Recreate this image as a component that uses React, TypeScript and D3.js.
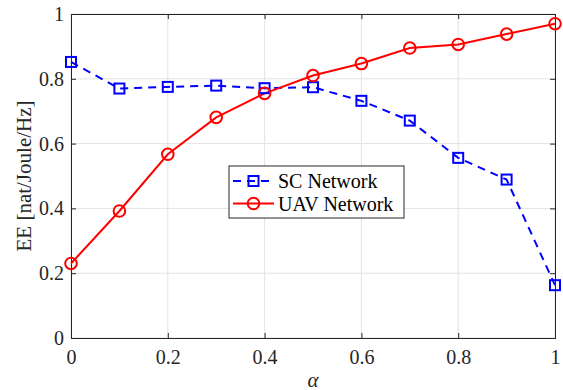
import * as React from "react"
import * as d3 from "d3"

const alphas = [0, 0.1, 0.2, 0.3, 0.4, 0.5, 0.6, 0.7, 0.8, 0.9, 1]
const scValues = [0.852, 0.77, 0.775, 0.779, 0.771, 0.774, 0.732, 0.671, 0.556, 0.489, 0.163]
const uavValues = [0.23, 0.392, 0.567, 0.681, 0.755, 0.81, 0.847, 0.895, 0.906, 0.938, 0.97]
const xTicks = [0, 0.2, 0.4, 0.6, 0.8, 1]
const yTicks = [0, 0.2, 0.4, 0.6, 0.8, 1]
const seriesNames = ["SC Network", "UAV Network"]

const width = 563
const height = 390
const margin = { top: 14, right: 8, bottom: 52, left: 71 }
const font = "Liberation Serif, Times New Roman, serif"

export default function App() {
  const ref = React.useRef<SVGSVGElement>(null)

  React.useEffect(() => {
    const svg = d3.select(ref.current)
    svg.selectAll("*").remove()
    const w = width - margin.left - margin.right
    const h = height - margin.top - margin.bottom

    const x = d3.scaleLinear().domain([0, 1]).range([0, w])
    const y = d3.scaleLinear().domain([0, 1]).range([h, 0])

    svg.append("rect").attr("width", width).attr("height", height).attr("fill", "#fff")

    const g = svg.append("g").attr("transform", `translate(${margin.left},${margin.top})`)

    // grid
    g.selectAll(".vgrid")
      .data(xTicks)
      .join("line")
      .attr("x1", (d) => x(d))
      .attr("x2", (d) => x(d))
      .attr("y1", 0)
      .attr("y2", h)
      .attr("stroke", "#e3e3e3")
      .attr("stroke-width", 1)
    g.selectAll(".hgrid")
      .data(yTicks)
      .join("line")
      .attr("y1", (d) => y(d))
      .attr("y2", (d) => y(d))
      .attr("x1", 0)
      .attr("x2", w)
      .attr("stroke", "#e3e3e3")
      .attr("stroke-width", 1)

    // axes
    const xAxis = g
      .append("g")
      .attr("transform", `translate(0,${h})`)
      .call(d3.axisBottom(x).tickValues(xTicks).tickSize(-5).tickPadding(12).tickFormat(d3.format("")))
    const yAxis = g
      .append("g")
      .call(d3.axisLeft(y).tickValues(yTicks).tickSize(-5).tickPadding(7).tickFormat(d3.format("")))
    g.append("g").call(d3.axisTop(x).tickValues(xTicks).tickSize(-5).tickFormat(() => ""))
    g.append("g")
      .attr("transform", `translate(${w},0)`)
      .call(d3.axisRight(y).tickValues(yTicks).tickSize(-5).tickFormat(() => ""))

    g.selectAll(".domain").attr("stroke", "#262626").attr("stroke-width", 1)
    g.selectAll(".tick line").attr("stroke", "#262626")
    for (const ax of [xAxis, yAxis]) {
      ax.attr("font-family", font).attr("font-size", 20)
      ax.selectAll(".tick text").attr("fill", "#262626")
    }

    // lines
    const line = d3
      .line<number>()
      .x((_d, i) => x(alphas[i]))
      .y((d) => y(d))

    g.append("path")
      .datum(scValues)
      .attr("d", line)
      .attr("fill", "none")
      .attr("stroke", "#0000ff")
      .attr("stroke-width", 2)
      .attr("stroke-dasharray", "8,6")

    g.append("path")
      .datum(uavValues)
      .attr("d", line)
      .attr("fill", "none")
      .attr("stroke", "#ff0000")
      .attr("stroke-width", 2)

    g.selectAll(".sq")
      .data(scValues)
      .join("rect")
      .attr("x", (_d, i) => x(alphas[i]) - 5)
      .attr("y", (d) => y(d) - 5)
      .attr("width", 10)
      .attr("height", 10)
      .attr("fill", "none")
      .attr("stroke", "#0000ff")
      .attr("stroke-width", 2)

    g.selectAll(".circ")
      .data(uavValues)
      .join("circle")
      .attr("cx", (_d, i) => x(alphas[i]))
      .attr("cy", (d) => y(d))
      .attr("r", 5.8)
      .attr("fill", "none")
      .attr("stroke", "#ff0000")
      .attr("stroke-width", 2)

    // legend
    const lg = svg.append("g").attr("transform", "translate(229,166)")
      .attr("font-family", font).attr("font-size", 20)
    lg.append("rect")
      .attr("width", 175)
      .attr("height", 52)
      .attr("fill", "#fff")
      .attr("stroke", "#262626")
      .attr("stroke-width", 1)
    lg.append("line")
      .attr("x1", 4).attr("x2", 45).attr("y1", 15).attr("y2", 15)
      .attr("stroke", "#0000ff").attr("stroke-width", 2).attr("stroke-dasharray", "8,6")
    lg.append("rect")
      .attr("x", 19.5).attr("y", 10).attr("width", 10).attr("height", 10)
      .attr("fill", "none").attr("stroke", "#0000ff").attr("stroke-width", 2)
    lg.append("line")
      .attr("x1", 4).attr("x2", 45).attr("y1", 37.5).attr("y2", 37.5)
      .attr("stroke", "#ff0000").attr("stroke-width", 2)
    lg.append("circle")
      .attr("cx", 24.5).attr("cy", 37.5).attr("r", 5.8)
      .attr("fill", "none").attr("stroke", "#ff0000").attr("stroke-width", 2)
    lg.selectAll(".lt")
      .data(seriesNames)
      .join("text")
      .attr("x", 49)
      .attr("y", (_d, i) => 21.5 + i * 23)
      .attr("fill", "#000")
      .text((d) => d)

    // axis labels
    svg.append("text")
      .attr("transform", `translate(31,${margin.top + h / 2}) rotate(-90)`)
      .attr("text-anchor", "middle")
      .attr("font-family", font)
      .attr("font-size", 21)
      .attr("fill", "#262626")
      .text("EE [nat/Joule/Hz]")
    svg.append("text")
      .attr("x", margin.left + w / 2)
      .attr("y", 387)
      .attr("text-anchor", "middle")
      .attr("font-family", font)
      .attr("font-style", "italic")
      .attr("font-size", 21)
      .attr("fill", "#262626")
      .text("α")
  }, [])

  return (
    <div style={{ position: "absolute", left: 0, top: 0 }}>
      <svg ref={ref} width={width} height={height} style={{ display: "block" }} />
    </div>
  )
}
